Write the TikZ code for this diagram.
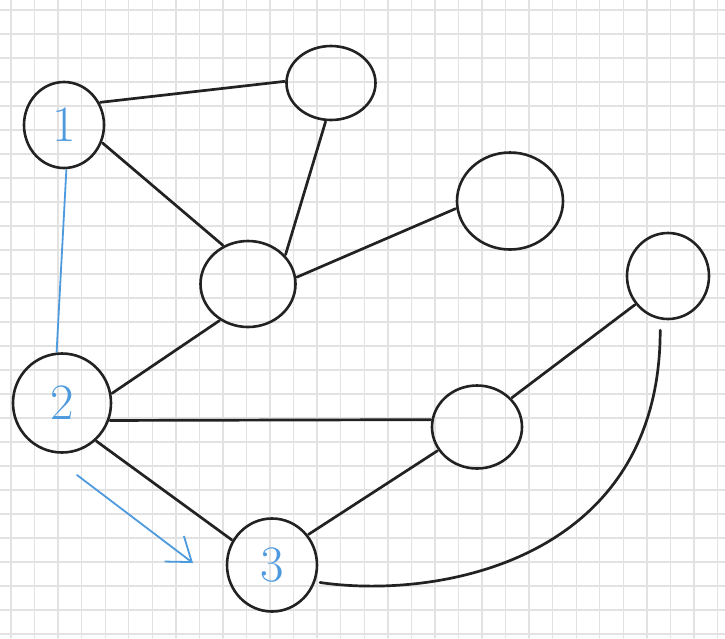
\documentclass[tikz,border=0pt]{standalone}
\usetikzlibrary{shapes.geometric,arrows.meta}
\definecolor{pencil}{RGB}{34,34,34}
\definecolor{bluepen}{RGB}{78,154,222}
\definecolor{gridgray}{RGB}{226,226,226}
\tikzset{
	vertex/.style={draw=pencil,ellipse,line width=2.6pt,inner sep=0pt,outer sep=2pt},
	lbl/.style={text=bluepen,font=\fontsize{51}{51}\selectfont},
	link/.style={draw=pencil,line width=2.7pt},
	hint/.style={draw=bluepen,line width=1.8pt},
	gridline/.style={draw=gridgray,line width=1.4pt}
}
\begin{document}
\begin{tikzpicture}[line join=round,line cap=round,x=1pt,y=-1pt,>={Straight Barb[length=22pt,width=32pt]}]
	\useasboundingbox (0,0) rectangle (725,638);
	\fill[white] (0,0) rectangle (725,638);
	\foreach \i in {0,...,30} \draw[gridline] ({11+23.55*\i},0)--({11+23.55*\i},638);
	\foreach \j in {0,...,26} \draw[gridline] (0,{10+24*\j})--(725,{10+24*\j});

	\node[vertex,lbl,minimum width=80pt,minimum height=86pt] (n1) at (64,125) {1};
	\node[vertex,lbl,minimum width=98pt,minimum height=99pt] (n2) at (62,403) {2};
	\node[vertex,lbl,minimum width=90pt,minimum height=93pt] (n3) at (272,565) {3};
	\node[vertex,minimum width=89pt,minimum height=74pt] (nA) at (331,83) {};
	\node[vertex,minimum width=106pt,minimum height=97pt] (nB) at (510,201) {};
	\node[vertex,minimum width=95pt,minimum height=86pt] (nC) at (248,284) {};
	\node[vertex,minimum width=82pt,minimum height=86pt] (nD) at (668,276) {};
	\node[vertex,minimum width=90pt,minimum height=83pt] (nE) at (477,427) {};

	\draw[link] (n1.32) -- (nA.178);
	\draw[link] (n1.-25) -- (nC.123);
	\draw[hint] (n1.-87) -- (n2.96);
	\draw[link] (nA.-98) -- (nC.38);
	\draw[link] (nC.8) -- (nB.-172);
	\draw[link] (n2.11) -- (nC.-128);
	\draw[link] (n2.-20) -- (nE.171);
	\draw[link] (n2.-48) -- (n3.148);
	\draw[link] (nE.40) -- (nD.-139);
	\draw[link] (nE.-149) -- (n3.40);
	\draw[link,shorten <=10pt,shorten >=4pt] (nD.-100) .. controls +(0,240) and +(123,18) .. (n3.-21);

	\coordinate (a0) at (77,475);
	\coordinate (a1) at (193,563);
	\draw[hint,->] (a0) -- (a1);
\end{tikzpicture}
\end{document}
